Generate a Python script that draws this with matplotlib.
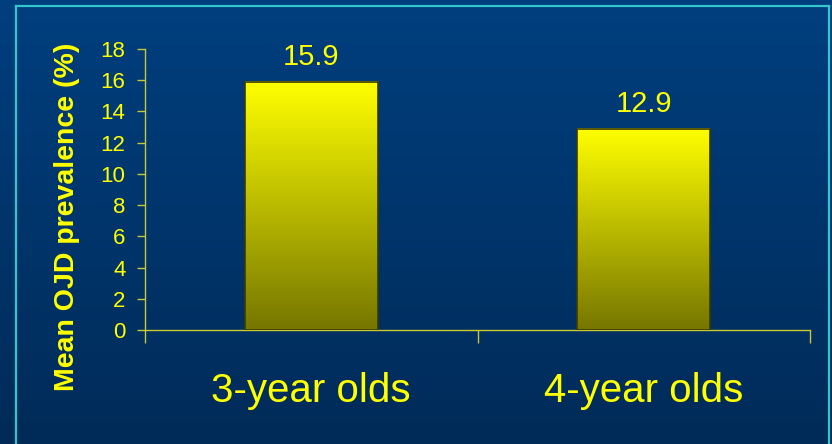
import numpy as np
import matplotlib.pyplot as plt
from matplotlib.lines import Line2D

# data
categories = ["3-year olds", "4-year olds"]
prevalence = [15.9, 12.9]
y_ticks = [0, 2, 4, 6, 8, 10, 12, 14, 16, 18]

plt.rcParams["font.family"] = ["Liberation Sans", "DejaVu Sans"]

fig = plt.figure(figsize=(8.32, 4.44), dpi=100)

# background gradient over the whole slide
bg = fig.add_axes([0, 0, 1, 1], zorder=-10)
bg.axis("off")
top_col = np.array([0, 63, 127]) / 255
bot_col = np.array([0, 43, 88]) / 255
t = np.linspace(0, 1, 256)[:, None]
grad = top_col * (1 - t[..., None]) + bot_col * t[..., None]
bg.imshow(grad, aspect="auto", extent=[0, 1, 0, 1])
bg.set_xlim(0, 1)
bg.set_ylim(0, 1)

# cyan frame
frame_col = "#33c6cc"
fig.add_artist(Line2D([16 / 832, 16 / 832], [0, 1 - 6 / 444], color=frame_col, lw=1.6, transform=fig.transFigure))
fig.add_artist(Line2D([16 / 832, 829 / 832], [1 - 6 / 444, 1 - 6 / 444], color=frame_col, lw=1.6, transform=fig.transFigure))
fig.add_artist(Line2D([829 / 832, 829 / 832], [0, 1 - 6 / 444], color=frame_col, lw=1.6, transform=fig.transFigure))

ax = fig.add_axes([145 / 832, 1 - 330 / 444, 665 / 832, 281 / 444])
ax.patch.set_alpha(0)

x = np.arange(len(categories))
bars = ax.bar(x, prevalence, width=0.4, facecolor="none", edgecolor="#3a3a00", lw=1.2, zorder=3)

# yellow -> olive gradient inside each bar
c_top = np.array([255, 255, 0]) / 255
c_bot = np.array([118, 118, 0]) / 255
g = np.linspace(0, 1, 256)[:, None]
bar_grad = c_top * (1 - g[..., None]) + c_bot * g[..., None]
for b in bars:
    x0, w, h = b.get_x(), b.get_width(), b.get_height()
    ax.imshow(bar_grad, aspect="auto", extent=[x0, x0 + w, 0, h], zorder=2)

for xi, v in zip(x, prevalence):
    ax.annotate(f"{v}", (xi, v), xytext=(0, 12), textcoords="offset points",
                ha="center", va="baseline", color="#ffff00", fontsize=21)

ax.set_xlim(-0.5, 1.5)
ax.set_ylim(0, 18)
ax.set_yticks(y_ticks)
ax.set_xticks(x)
ax.set_xticklabels(categories)
ax.set_xticks([-0.5, 0.5, 1.5], minor=True)

axis_col = "#c8c832"
for s in ["top", "right"]:
    ax.spines[s].set_visible(False)
for s in ["left", "bottom"]:
    ax.spines[s].set_color(axis_col)
    ax.spines[s].set_linewidth(1.0)

ax.tick_params(axis="y", colors=axis_col, labelcolor="#ffff00", labelsize=16, length=6, width=1, pad=8)
ax.tick_params(axis="x", which="major", length=0, labelcolor="#ffff00", labelsize=29, pad=30)
ax.tick_params(axis="x", which="minor", length=9.5, width=1, color=axis_col, direction="out")

fig.text(67 / 832, 1 - 217 / 444, "Mean OJD prevalence (%)", rotation=90, ha="center", va="center",
         color="#ffff00", fontsize=20.5, fontweight="bold")

fig.savefig("out.png", dpi=100)
